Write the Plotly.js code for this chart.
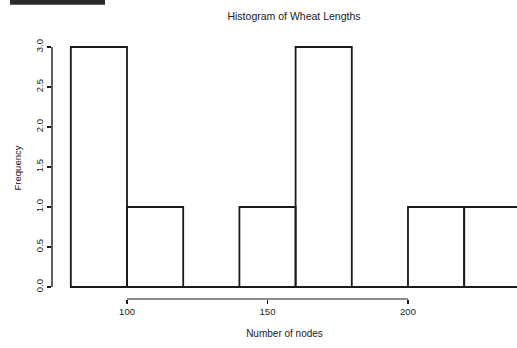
<!DOCTYPE html>
<html>
<head>
<meta charset="utf-8">
<script src="https://cdn.plot.ly/plotly-3.0.1.min.js"></script>
<style>html,body{margin:0;padding:0;background:#fff;}#chart{width:517px;height:348px;}</style>
</head>
<body>
<div id="chart"></div>
<script>
var binStarts = [80, 100, 120, 140, 160, 180, 200, 220];
var counts = [3, 1, 0, 1, 3, 0, 1, 1];
var binWidth = 20;
var xTickVals = [100, 150, 200];
var xTickText = ["100", "150", "200"];
var yTickVals = [0, 0.5, 1, 1.5, 2, 2.5, 3];
var yTickText = ["0.0", "0.5", "1.0", "1.5", "2.0", "2.5", "3.0"];
var titleText = "Histogram of Wheat Lengths";
var xLabel = "Number of nodes";
var yLabel = "Frequency";

var centers = binStarts.map(function (s) { return s + binWidth / 2; });
var ink = "#1a1a1a";
var font = {family: "Liberation Sans, Arial, sans-serif", size: 9.5, color: ink};

var trace = {
  type: "bar",
  x: centers,
  y: counts,
  width: binWidth,
  marker: {color: "rgba(255,255,255,0)", line: {color: ink, width: 1.8}},
  hoverinfo: "skip"
};

var layout = {
  width: 517, height: 348,
  margin: {l: 52, r: 0, t: 37, b: 49},
  paper_bgcolor: "#fff", plot_bgcolor: "#fff",
  showlegend: false,
  font: font,
  title: {text: titleText, font: {family: font.family, size: 10.5, color: ink},
          x: 294 / 517, xanchor: "center", xref: "container",
          y: 1 - 16 / 348, yanchor: "middle", yref: "container"},
  xaxis: {range: [73.3, 238.8], showgrid: false, zeroline: false, showline: false,
          ticks: "outside", ticklen: 4, tickcolor: ink, tickwidth: 1.2,
          tickvals: xTickVals, ticktext: xTickText, tickfont: font,
          title: {text: xLabel, font: {family: font.family, size: 10, color: ink}, standoff: 13}},
  yaxis: {range: [-0.15, 3.125], showgrid: false, zeroline: false, showline: false,
          ticks: "outside", ticklen: 4, tickcolor: ink, tickwidth: 1.2,
          tickvals: yTickVals, ticktext: yTickText, tickfont: font, tickangle: -90,
          title: {text: yLabel, font: font, standoff: 10}},
  shapes: [
    {type: "line", xref: "x", yref: "paper", x0: xTickVals[0], x1: xTickVals[xTickVals.length - 1],
     y0: 0, y1: 0, line: {color: ink, width: 1.2}},
    {type: "line", xref: "paper", yref: "y", x0: 0, x1: 0,
     y0: yTickVals[0], y1: yTickVals[yTickVals.length - 1], line: {color: ink, width: 1.4}},
    {type: "line", xref: "x", yref: "y", x0: binStarts[0], x1: binStarts[binStarts.length - 1] + binWidth,
     y0: 0, y1: 0, line: {color: ink, width: 1.8}},
    {type: "rect", xref: "paper", yref: "paper", x0: -0.0903, x1: 0.114, y0: 1.123, y1: 1.141,
     fillcolor: "#2a2a2a", line: {width: 0}}
  ]
};

Plotly.newPlot("chart", [trace], layout, {staticPlot: true, displayModeBar: false});
</script>
</body>
</html>
